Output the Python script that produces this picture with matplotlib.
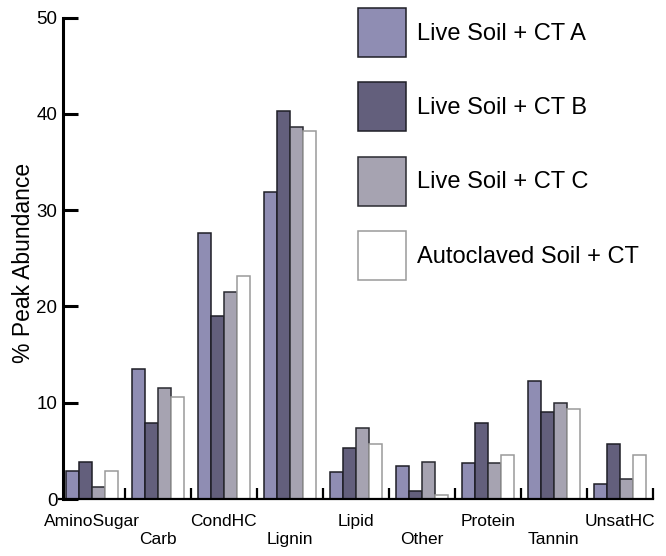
import numpy as np
import matplotlib
matplotlib.use('Agg')
import matplotlib.pyplot as plt

plt.rcParams['font.family'] = ['Liberation Sans', 'DejaVu Sans']

# Compound classes and % peak abundance for each treatment
classes = ['AminoSugar', 'Carb', 'CondHC', 'Lignin', 'Lipid',
           'Other', 'Protein', 'Tannin', 'UnsatHC']
live_a = [2.9, 13.5, 27.6, 31.9, 2.8, 3.4, 3.7, 12.3, 1.6]
live_b = [3.8, 7.9, 19.0, 40.3, 5.3, 0.8, 7.9, 9.0, 5.7]
live_c = [1.2, 11.5, 21.5, 38.6, 7.4, 3.8, 3.7, 10.0, 2.1]
autoclaved = [2.9, 10.6, 23.2, 38.2, 5.7, 0.4, 4.6, 9.3, 4.6]

series = [live_a, live_b, live_c, autoclaved]
labels = ['Live Soil + CT A', 'Live Soil + CT B', 'Live Soil + CT C',
          'Autoclaved Soil + CT']
faces = ['#8f8db3', '#635f7c', '#a6a3b1', '#ffffff']
edges = ['#1e1e26', '#1e1e26', '#2a2a30', '#9a9a9a']

fig = plt.figure(figsize=(6.66, 5.56), dpi=100)
ax = fig.add_axes([0.0881, 0.1025, 0.8919, 0.866])

x = np.arange(len(classes))
w = 0.197
handles = []
for k, vals in enumerate(series):
    b = ax.bar(x + (k - 1.5) * w, vals, width=w, color=faces[k],
               edgecolor=edges[k], linewidth=1.1, label=labels[k], zorder=2)
    handles.append(b)

ax.set_xlim(-0.5, len(classes) - 0.5)
ax.set_ylim(0, 50)

for s in ['top', 'right']:
    ax.spines[s].set_visible(False)
ax.spines['left'].set_position(('data', -0.435))
ax.spines['left'].set_linewidth(2.2)
ax.spines['bottom'].set_linewidth(1.6)

ax.set_yticks(np.arange(0, 51, 10))
ax.tick_params(axis='y', direction='in', length=11, width=2.2,
               labelsize=13.5, pad=4)

# group separators as major ticks, class names as minor ticks
ax.set_xticks(np.arange(0.5, len(classes), 1.0))
ax.set_xticklabels([])
ax.tick_params(axis='x', which='major', direction='in', length=8, width=1.6)
ax.set_xticks(x, minor=True)
ax.set_xticklabels([c if i % 2 == 0 else '\n' + c for i, c in enumerate(classes)],
                   minor=True)
ax.tick_params(axis='x', which='minor', length=0, labelsize=12.5, pad=11)

ax.set_ylabel('% Peak Abundance', fontsize=16.5)
ax.yaxis.set_label_coords(-0.04, 0.49)

fig.legend(handles=handles, labels=labels, loc='upper left',
           bbox_to_anchor=(358 / 666, 1 - 8 / 556), frameon=False,
           fontsize=17, handlelength=2.03, handleheight=2.82,
           handletextpad=0.47, labelspacing=1.07, borderpad=0,
           borderaxespad=0)

fig.savefig('out.png', dpi=100)
